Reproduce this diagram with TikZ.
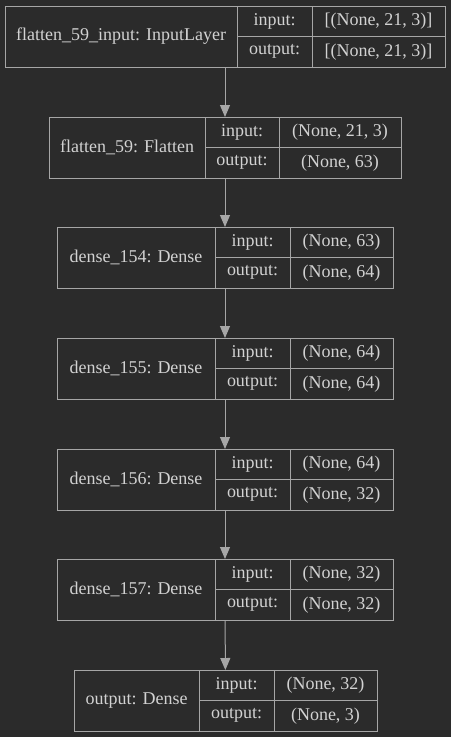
\documentclass[tikz,border=0pt]{standalone}
\usepackage{fontspec}
\setmainfont{Liberation Serif}
\usepackage{tikz}
\usetikzlibrary{positioning,fit,arrows.meta}
\definecolor{bg}{HTML}{2B2B2B}
\definecolor{edgegray}{HTML}{A6A6A6}
\definecolor{textmain}{HTML}{D2D2D2}

% one keras layer: id, top, left, div1, div2, right, name, input, output
\newcommand{\layerbox}[9]{%
  \node[cell,anchor=north west,minimum width={#4pt-#3pt},minimum height=61pt] (#1n) at (#3,#2) {#7};
  \node[cell,anchor=north west,minimum width={#5pt-#4pt}] (#1i) at (#1n.north east) {input:};
  \node[cell,below=0pt of #1i,minimum width={#5pt-#4pt}] (#1o) {output:};
  \node[cell,anchor=north west,minimum width={#6pt-#5pt}] (#1vi) at (#1i.north east) {#8};
  \node[cell,below=0pt of #1vi,minimum width={#6pt-#5pt}] (#1vo) {#9};
  \node[fit=(#1n)(#1vo),inner sep=0pt,outer sep=0pt] (#1) {};
}

\begin{document}
\begin{tikzpicture}[
  x=1pt,y=-1pt,
  cell/.style={draw=edgegray,line width=1pt,text=textmain,inner sep=0pt,outer sep=0pt,
               minimum height=30.5pt,font=\fontsize{18}{20}\selectfont},
  arr/.style={-{Triangle[width=10pt,length=12pt]},draw=edgegray,line width=1pt}
]
  \fill[bg] (0,0) rectangle (451,737);
  \useasboundingbox (0,0) rectangle (451,737);

  \layerbox{l1}{6}{5}{237}{312}{445}{flatten\_59\_input: InputLayer}{[(None, 21, 3)]}{[(None, 21, 3)]}
  \layerbox{l2}{117}{49}{205}{279}{401}{flatten\_59: Flatten}{(None, 21, 3)}{(None, 63)}
  \layerbox{l3}{227}{57}{215}{290}{393}{dense\_154: Dense}{(None, 63)}{(None, 64)}
  \layerbox{l4}{338}{57}{215}{290}{393}{dense\_155: Dense}{(None, 64)}{(None, 64)}
  \layerbox{l5}{449}{57}{215}{290}{393}{dense\_156: Dense}{(None, 64)}{(None, 32)}
  \layerbox{l6}{559}{57}{215}{290}{393}{dense\_157: Dense}{(None, 32)}{(None, 32)}
  \layerbox{l7}{670}{74}{199}{274}{377}{output: Dense}{(None, 32)}{(None, 3)}

  \draw[arr] (l1) -- (l2);
  \draw[arr] (l2) -- (l3);
  \draw[arr] (l3) -- (l4);
  \draw[arr] (l4) -- (l5);
  \draw[arr] (l5) -- (l6);
  \draw[arr] (l6) -- (l7);
\end{tikzpicture}
\end{document}
